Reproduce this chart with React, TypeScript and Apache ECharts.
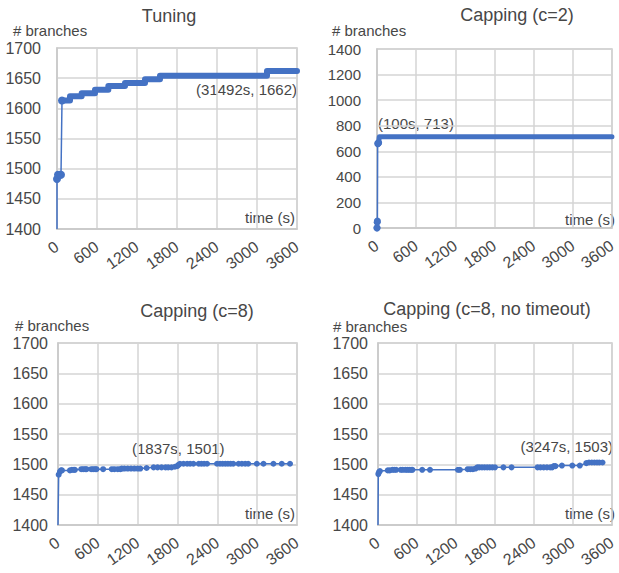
import React, { useEffect, useRef } from "react";
import * as echarts from "echarts";

const FONT = "'Liberation Sans', Arial, sans-serif";
const BLUE = "#4472C4";
const TXT = "#474747";

const xTicks = [0, 600, 1200, 1800, 2400, 3000, 3600];

// Tuning
const tuningStartT = [0, 0, 15, 45, 60, 75];
const tuningStartV = [1400, 1483, 1490, 1490, 1490, 1613];
const tuningStepT = [75, 195, 370, 570, 770, 1020, 1320, 1545, 3150, 3600];
const tuningStepV = [1613, 1620, 1625, 1631, 1637, 1642, 1648, 1654, 1662, 1662];

// Capping (c=2)
const c2StartT = [0, 0, 3, 6, 10, 20, 25];
const c2StartV = [0, 2, 45, 55, 660, 664, 666];
const c2PlateauT = [25, 35, 100, 3600];
const c2PlateauV = [666, 713, 713, 713];

// Capping (c=8)
const c8T = [0, 10, 30, 45, 60, 180, 210, 240, 255, 350, 380, 410, 430, 500, 530, 560, 580, 680, 810, 850, 900, 940, 960, 1000, 1050, 1100, 1150, 1200, 1240, 1335, 1440, 1500, 1560, 1620, 1660, 1710, 1760, 1795, 1815, 1837, 1890, 1945, 1990, 2040, 2120, 2160, 2200, 2245, 2395, 2440, 2480, 2520, 2560, 2600, 2640, 2720, 2770, 2820, 2865, 2995, 3095, 3245, 3370, 3495];
const c8V = [1400, 1483, 1488, 1490, 1490, 1490, 1491, 1491, 1491, 1492, 1492, 1492, 1492, 1492, 1492, 1492, 1492, 1492, 1492, 1492, 1492, 1492, 1493, 1493, 1493, 1493, 1493, 1493, 1493, 1494, 1495, 1495, 1495, 1495, 1495, 1495, 1496, 1497, 1499, 1501, 1501, 1501, 1501, 1501, 1501, 1501, 1501, 1501, 1501, 1501, 1501, 1501, 1501, 1501, 1501, 1501, 1501, 1501, 1501, 1501, 1501, 1501, 1501, 1501];

// Capping (c=8, no timeout)
const c8nT = [0, 5, 15, 30, 150, 180, 220, 250, 280, 350, 380, 420, 450, 480, 510, 530, 680, 800, 1230, 1260, 1380, 1420, 1460, 1500, 1530, 1560, 1600, 1640, 1680, 1720, 1760, 1800, 1930, 2055, 2455, 2500, 2550, 2600, 2650, 2680, 2705, 2730, 2830, 2990, 3105, 3205, 3247, 3290, 3330, 3370, 3405, 3455];
const c8nV = [1400, 1484, 1487, 1489, 1490, 1490, 1491, 1491, 1491, 1491, 1491, 1491, 1491, 1491, 1491, 1491, 1491, 1491, 1491, 1491, 1492, 1492, 1492, 1493, 1495, 1495, 1495, 1495, 1495, 1495, 1495, 1495, 1495, 1495, 1495, 1495, 1495, 1495, 1495, 1495, 1497, 1497, 1498, 1498, 1498, 1502, 1503, 1503, 1503, 1503, 1503, 1503];

const titles = ["Tuning", "Capping (c=2)", "Capping (c=8)", "Capping (c=8, no timeout)"];
const notes = ["(31492s, 1662)", "(100s, 713)", "(1837s, 1501)", "(3247s, 1503)"];

const pairs = (t: number[], v: number[]) => t.map((x, i) => [x, v[i]]);
const pairsNoFirstSym = (t: number[], v: number[]) =>
  t.map((x, i) => (i === 0 ? { value: [x, v[i]], symbol: "none" } : [x, v[i]]));

const grids = [
  { left: 57, top: 48, width: 240, height: 181 },
  { left: 377, top: 49, width: 240, height: 179 },
  { left: 58, top: 343, width: 239, height: 182 },
  { left: 378, top: 343, width: 239, height: 182 },
];

export default function App() {
  const ref = useRef<HTMLDivElement>(null);
  useEffect(() => {
    if (!ref.current) return;
    const chart = echarts.init(ref.current, undefined, { renderer: "svg" });
    const yRanges = [
      { min: 1400, max: 1700, interval: 50 },
      { min: 0, max: 1400, interval: 200 },
      { min: 1400, max: 1700, interval: 50 },
      { min: 1400, max: 1700, interval: 50 },
    ];
    const ySizes = [16, 15, 16, 16];
    const split = { show: true, lineStyle: { color: "#d4d4d4", width: 1.5 } };
    const plain = (v: number) => String(v);
    const xAxis = grids.map((_, i) => ({
      type: "value",
      gridIndex: i,
      min: xTicks[0],
      max: xTicks[xTicks.length - 1],
      interval: xTicks[1] - xTicks[0],
      axisLine: { show: true, lineStyle: { color: "#c8c8c8", width: 1.5 } },
      axisTick: { show: false },
      splitLine: split,
      axisLabel: { rotate: 35, margin: 16, color: TXT, fontFamily: FONT, fontSize: 16, formatter: plain },
    }));
    const yAxis = grids.map((_, i) => ({
      type: "value",
      gridIndex: i,
      ...yRanges[i],
      axisLine: { show: true, lineStyle: { color: "#c8c8c8", width: 1.5 } },
      axisTick: { show: false },
      splitLine: split,
      axisLabel: { margin: i < 2 ? 16 : 10, color: TXT, fontFamily: FONT, fontSize: ySizes[i], formatter: plain },
    }));
    const base = (i: number) => ({
      type: "line",
      xAxisIndex: i,
      yAxisIndex: i,
      symbol: "circle",
      showSymbol: true,
      itemStyle: { color: BLUE },
      lineStyle: { color: BLUE, width: 1.5 },
      silent: true,
    });
    const series: any[] = [
      { ...base(0), symbolSize: 8, data: pairsNoFirstSym(tuningStartT, tuningStartV) },
      { ...base(0), symbol: "none", step: "end", lineStyle: { color: BLUE, width: 6, cap: "round", join: "round" }, data: pairs(tuningStepT, tuningStepV) },
      { ...base(1), symbolSize: 7, data: pairs(c2StartT, c2StartV) },
      { ...base(1), symbol: "none", lineStyle: { color: BLUE, width: 5, cap: "round", join: "round" }, data: pairs(c2PlateauT, c2PlateauV) },
      { ...base(2), symbolSize: 6, data: pairsNoFirstSym(c8T, c8V) },
      { ...base(3), symbolSize: 6, data: pairsNoFirstSym(c8nT, c8nV) },
    ];
    const txt = (text: string, x: number, y: number, align: string, size: number) => ({
      type: "text",
      x,
      y,
      silent: true,
      style: { text, fill: TXT, font: `${size}px ${FONT}`, textAlign: align, textVerticalAlign: "middle" },
    });
    const graphic = [
      txt(titles[0], 169, 16, "center", 18),
      txt(titles[1], 517, 15, "center", 18),
      txt(titles[2], 197, 311, "center", 18),
      txt(titles[3], 487, 309, "center", 18),
      txt("# branches", 13, 30, "left", 15),
      txt("# branches", 332, 30, "left", 15),
      txt("# branches", 15, 325, "left", 15),
      txt("# branches", 333, 326, "left", 15),
      txt("time (s)", 295, 217, "right", 15),
      txt("time (s)", 615, 219, "right", 15),
      txt("time (s)", 295, 513, "right", 15),
      txt("time (s)", 615, 513, "right", 15),
      txt(notes[0], 297, 89, "right", 15),
      txt(notes[1], 378, 123, "left", 15),
      txt(notes[2], 132, 448, "left", 15),
      txt(notes[3], 613, 446, "right", 15),
    ];
    chart.setOption({
      animation: false,
      backgroundColor: "#ffffff",
      grid: grids.map((g) => ({ ...g, show: true, borderColor: "#c8c8c8", borderWidth: 1.5, containLabel: false })),
      xAxis,
      yAxis,
      series,
      graphic,
    });
    return () => chart.dispose();
  }, []);
  return <div ref={ref} style={{ position: "absolute", left: 0, top: 0, width: 619, height: 573 }} />;
}
